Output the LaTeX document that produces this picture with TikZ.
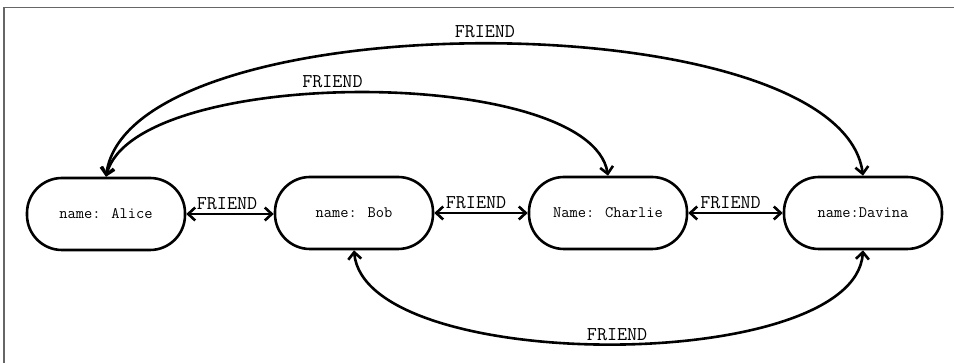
\documentclass[tikz,border=0pt]{standalone}
\usetikzlibrary{arrows.meta}
\begin{document}
\begin{tikzpicture}[x=1pt,y=-1pt,
  person/.style={draw, line width=2.6pt, rectangle, rounded corners=35pt,
    minimum width=158pt, minimum height=72pt, inner sep=0pt,
    font=\ttfamily\fontsize{16}{18}\selectfont},
  rel/.style={line width=2.6pt,
    {Straight Barb[length=7pt,width=13pt]}-{Straight Barb[length=7pt,width=13pt]}},
  rlabel/.style={font=\ttfamily\fontsize{19.5}{21}\selectfont, inner sep=0pt},
  frameline/.style={draw=black!60, line width=1.5pt}
]
\useasboundingbox (0,0) rectangle (954,363);

% frame along the top and left edges
\draw[frameline] (4,363) -- (4,7.5) -- (954,7.5);

% people
\node[person] (alice)   at (106,214) {name: Alice};
\node[person] (bob)     at (354,213) {name: Bob};
\node[person] (charlie) at (608,213) {Name: Charlie};
\node[person] (davina)  at (863,213) {name:Davina};

% neighbours
\draw[rel] (alice.east) -- (alice.east -| bob.west)
  node[rlabel, midway, above=3pt, xshift=-3pt] (l1) {FRIEND};
\draw[rel] (bob.east) -- (charlie.west)
  node[rlabel, midway, above=3pt, xshift=-5pt] (l2) {FRIEND};
\draw[rel] (charlie.east) -- (davina.west)
  node[rlabel, midway, above=3pt, xshift=-5pt] (l3) {FRIEND};

% long arcs over the top
\draw[rel] (alice.north) .. controls (130,0) and (840,0) .. (davina.north)
  node[rlabel, pos=0.5, above=5pt] (l4) {FRIEND};
\draw[rel] (alice.north) .. controls (135,65) and (590,65) .. (charlie.north)
  node[rlabel, pos=0.46, above=4pt] (l5) {FRIEND};

% arc underneath
\draw[rel] (bob.south) .. controls (365,375) and (855,375) .. (davina.south)
  node[rlabel, pos=0.51, above=1.5pt] (l6) {FRIEND};
\end{tikzpicture}
\end{document}
